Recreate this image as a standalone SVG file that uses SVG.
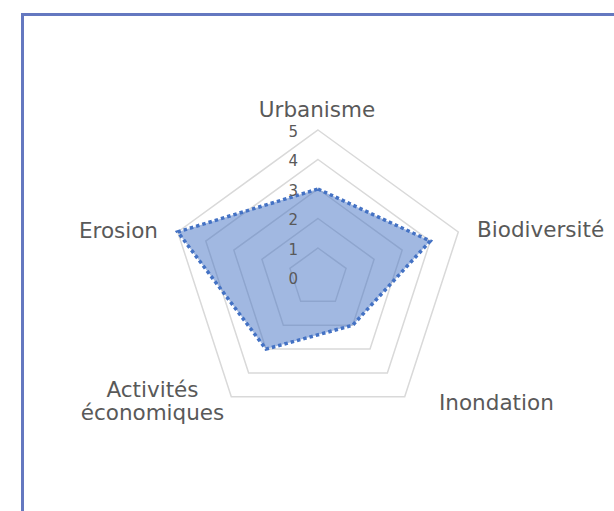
<svg xmlns="http://www.w3.org/2000/svg" width="614" height="511" viewBox="0 0 614 511">
<style>
.grid{fill:none;stroke:#d9d9d9;stroke-width:1.5;stroke-linejoin:miter}
.lbl{font-family:"DejaVu Sans",sans-serif;font-size:21.5px;fill:#595959}
.tick{font-family:"DejaVu Sans",sans-serif;font-size:15px;fill:#595959;text-anchor:end}
.series{fill:#4472c4;fill-opacity:0.5;stroke:#4472c4;stroke-width:3.5;stroke-dasharray:3.5 3;stroke-linejoin:miter}
</style>
<rect x="0" y="0" width="614" height="511" fill="#ffffff"/>
<rect id="frame" x="22.5" y="14.5" width="700" height="600" fill="#ffffff" stroke="#6478c0" stroke-width="3"/>
<g id="gridlines">
<polygon class="grid" points="318,130 458.28,231.92 404.70,396.83 231.30,396.83 177.72,231.92"/>
<polygon class="grid" points="318,159.5 430.23,241.04 387.36,372.96 248.64,372.96 205.77,241.04"/>
<polygon class="grid" points="318,189 402.17,250.15 370.02,349.10 265.98,349.10 233.83,250.15"/>
<polygon class="grid" points="318,218.5 374.11,259.27 352.68,325.23 283.32,325.23 261.89,259.27"/>
<polygon class="grid" points="318,248 346.06,268.38 335.34,301.37 300.66,301.37 289.94,268.38"/>
</g>
<g id="series">
<polygon class="series" points="318,189 430.23,241.04 352.68,325.23 265.98,349.10 177.72,231.92"/>
</g>
<g id="ticks">
<text class="tick" x="298" y="136.5">5</text>
<text class="tick" x="298" y="166">4</text>
<text class="tick" x="298" y="195.5">3</text>
<text class="tick" x="298" y="225">2</text>
<text class="tick" x="298" y="254.5">1</text>
<text class="tick" x="298" y="284">0</text>
</g>
<g id="urbanisme"><text class="lbl" x="317" y="116.5" text-anchor="middle">Urbanisme</text></g>
<g id="biodiversite"><text class="lbl" x="477" y="237">Biodiversité</text></g>
<g id="inondation"><text class="lbl" x="439" y="410">Inondation</text></g>
<g id="activites"><text class="lbl" x="152.5" y="397" text-anchor="middle">Activités</text><text class="lbl" x="152.5" y="420" text-anchor="middle">économiques</text></g>
<g id="erosion"><text class="lbl" x="158" y="238" text-anchor="end">Erosion</text></g>
</svg>
